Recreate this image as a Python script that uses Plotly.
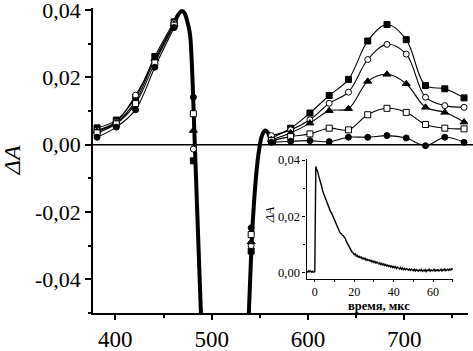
import plotly.graph_objects as go

# ---------------- data ----------------
wavelength = [381, 401, 421, 441, 461, 481, 541, 562, 582, 602, 622, 642, 662, 682, 702, 722, 742, 762]

s_filled_square = [0.0050, 0.0073, 0.0140, 0.0262, 0.0365, -0.0048, -0.0316, 0.0020, 0.0049, 0.0094,
                   0.0146, 0.0194, 0.0308, 0.0357, 0.0312, 0.0176, 0.0166, 0.0139]
s_open_circle = [0.0043, 0.0068, 0.0147, 0.0250, 0.0362, -0.0013, -0.0300, 0.0027, 0.0044, 0.0074,
                 0.0123, 0.0156, 0.0253, 0.0298, 0.0269, 0.0141, 0.0116, 0.0111]
s_filled_triangle = [0.0040, 0.0065, 0.0130, 0.0255, 0.0358, 0.0042, -0.0289, 0.0015, 0.0035, 0.0064,
                     0.0101, 0.0107, 0.0188, 0.0209, 0.0181, 0.0111, 0.0096, 0.0067]
s_open_square = [0.0035, 0.0062, 0.0122, 0.0243, 0.0355, 0.0092, -0.0267, 0.0012, 0.0024, 0.0032,
                 0.0049, 0.0044, 0.0089, 0.0108, 0.0096, 0.0060, 0.0049, 0.0047]
s_filled_circle = [0.0022, 0.0052, 0.0104, 0.0230, 0.0348, 0.0141, -0.0247, 0.0007, 0.0010, 0.0012,
                   0.0009, 0.0022, 0.0022, 0.0027, 0.0020, -0.0003, 0.0022, 0.0007]

# thick bleach curve (the part drawn without markers); None = off-scale gap
bleach_wl = [461, 465, 469.4, 472, 474.5, 477.4, 479.1, 482.5, 488.8, 492,
             None,
             535, 538.6, 541.5, 544, 546.6, 549, 552, 555.5, 558, 560.5, 564, 567]
bleach_val = [0.0358, 0.0385, 0.0397, 0.0390, 0.0368, 0.0330, 0.0260, 0.0, -0.050, -0.075,
              None,
              -0.075, -0.050, -0.029, -0.017, -0.0078, -0.002, 0.0025, 0.0042, 0.0037, 0.0022, 0.0010, 0.0007]

# inset kinetic trace, sampled every 0.5 us starting at -4 us
inset_t_start = -4.0
inset_t_step = 0.5
inset_da = [
    0.0005, 0.0002, 0.0007, 0.0003, 0.0006, 0.0001, 0.0005, 0.0002, 0.0004,
    0.0377, 0.0366, 0.0358, 0.0343, 0.0333, 0.0317, 0.0306, 0.0290, 0.0281,
    0.0268, 0.0262, 0.0249, 0.0243, 0.0231, 0.0226, 0.0216, 0.0212, 0.0203,
    0.0198, 0.0186, 0.0179, 0.0166, 0.0159, 0.0149, 0.0146, 0.0140, 0.0138,
    0.0132, 0.0131, 0.0125, 0.0121, 0.0111, 0.0105, 0.0095, 0.0090, 0.0082,
    0.0079, 0.0072, 0.0070, 0.0064, 0.0067, 0.0059, 0.0062, 0.0055, 0.0058,
    0.0053, 0.0056, 0.0049, 0.0053, 0.0047, 0.0051, 0.0044, 0.0048, 0.0043,
    0.0046, 0.0041, 0.0044, 0.0038, 0.0042, 0.0036, 0.0040, 0.0034, 0.0038,
    0.0033, 0.0031, 0.0035, 0.0029, 0.0033, 0.0027, 0.0031, 0.0025, 0.0029,
    0.0023, 0.0027, 0.0022, 0.0025, 0.0020, 0.0024, 0.0018, 0.0022, 0.0017,
    0.0021, 0.0015, 0.0019, 0.0016, 0.0013, 0.0018, 0.0012, 0.0016, 0.0011,
    0.0015, 0.0010, 0.0014, 0.0012, 0.0009, 0.0013, 0.0008, 0.0012, 0.0009,
    0.0007, 0.0012, 0.0006, 0.0011, 0.0008, 0.0005, 0.0010, 0.0007, 0.0011,
    0.0005, 0.0009, 0.0006, 0.0011, 0.0004, 0.0009, 0.0007, 0.0012, 0.0005,
    0.0010, 0.0006, 0.0008, 0.0012, 0.0005, 0.0010, 0.0007, 0.0011, 0.0006,
    0.0009, 0.0012, 0.0006, 0.0011, 0.0008, 0.0013, 0.0007, 0.0010, 0.0012,
    0.0008, 0.0013, 0.0009, 0.0014, 0.0011,
]

main_xticks = [400, 500, 600, 700]
main_xticktext = ["400", "500", "600", "700"]
main_yticks = [-0.04, -0.02, 0.0, 0.02, 0.04]
main_yticktext = ["-0,04", "-0,02", "0,00", "0,02", "0,04"]
inset_xticks = [0, 20, 40, 60]
inset_xticktext = ["0", "20", "40", "60"]
inset_yticks = [0.0, 0.02, 0.04]
inset_yticktext = ["0,00", "0,02", "0,04"]

# ---------------- figure ----------------
FONT = "Liberation Serif"
series = [
    (s_filled_square, "square", "black", 6),
    (s_open_circle, "circle", "white", 6),
    (s_filled_triangle, "triangle-up", "black", 7),
    (s_open_square, "square", "white", 6),
    (s_filled_circle, "circle", "black", 6),
]
LEFT_END, RIGHT_START = 461, 562

fig = go.Figure()

# thin spline lines (left and right segments of each series)
for vals, sym, fill, size in series:
    xs = [w if (w <= LEFT_END or w >= RIGHT_START) else None for w in wavelength]
    ys = [v if (w <= LEFT_END or w >= RIGHT_START) else None for w, v in zip(wavelength, vals)]
    fig.add_trace(go.Scatter(x=xs, y=ys, mode="lines", line=dict(color="black", width=1.1, shape="spline"),
                             connectgaps=False, showlegend=False, hoverinfo="skip"))

# thick curve
fig.add_trace(go.Scatter(x=bleach_wl, y=bleach_val, mode="lines", connectgaps=False,
                         line=dict(color="black", width=4, shape="spline"), showlegend=False))

# markers
for vals, sym, fill, size in series:
    fig.add_trace(go.Scatter(x=wavelength, y=vals, mode="markers",
                             marker=dict(symbol=sym, size=size, color=fill,
                                         line=dict(color="black", width=1)),
                             showlegend=False, cliponaxis=True))

# inset
inset_t = [inset_t_start + i * inset_t_step for i in range(len(inset_da))]
fig.add_trace(go.Scatter(x=inset_t, y=inset_da, mode="lines", xaxis="x2", yaxis="y2",
                         line=dict(color="black", width=1.4), showlegend=False))

axis_common = dict(showgrid=False, zeroline=False, showline=True, linecolor="black",
                   ticks="outside", tickcolor="black", mirror=False, automargin=False,
                   ticklabeloverflow="allow")

fig.update_layout(
    template=go.layout.Template(),
    width=473, height=351,
    margin=dict(l=93, r=5, t=8, b=38, pad=0),
    paper_bgcolor="white", plot_bgcolor="white",
    font=dict(family=FONT, color="black"),
    xaxis=dict(range=[376.8, 766.1], tickvals=main_xticks, ticktext=main_xticktext,
               ticklen=5, tickwidth=1.5, linewidth=1.5,
               tickfont=dict(family=FONT, size=23),
               minor=dict(tickvals=[450, 550, 650, 750], ticklen=3, ticks="outside",
                          tickwidth=1.5, tickcolor="black"),
               **axis_common),
    yaxis=dict(range=[-0.05, 0.0406], tickvals=main_yticks, ticktext=main_yticktext,
               ticklen=6, tickwidth=1.5, linewidth=1.5,
               tickfont=dict(family=FONT, size=22),
               minor=dict(tickvals=[-0.05, -0.03, -0.01, 0.01, 0.03], ticklen=3, ticks="outside",
                          tickwidth=1.5, tickcolor="black"),
               **axis_common),
    xaxis2=dict(domain=[0.5694, 0.960], anchor="y2", range=[-4.2, 70.1],
                tickvals=inset_xticks, ticktext=inset_xticktext, ticklen=2, tickwidth=1, linewidth=1.2,
                tickfont=dict(family=FONT, size=12),
                minor=dict(tickvals=[10, 30, 50, 70], ticklen=2, ticks="outside", tickcolor="black"),
                **axis_common),
    yaxis2=dict(domain=[0.1129, 0.5034], anchor="x2", range=[-0.0021, 0.0402],
                tickvals=inset_yticks, ticktext=inset_yticktext, ticklen=3, tickwidth=1, linewidth=1.2,
                tickfont=dict(family=FONT, size=12.5),
                minor=dict(tickvals=[0.01, 0.03], ticklen=2, ticks="outside", tickcolor="black"),
                **axis_common),
    shapes=[dict(type="line", xref="paper", yref="y", x0=0, x1=1.02, y0=0, y1=0,
                 line=dict(color="black", width=1.5))],
    annotations=[
        dict(text="<i>ΔA</i>", xref="paper", yref="paper", x=-0.217, y=0.50, textangle=-90,
             xanchor="center", yanchor="middle",
             showarrow=False, font=dict(family=FONT, size=24)),
        dict(text="<i>ΔA</i>", xref="paper", yref="paper", x=0.470, y=0.321, textangle=-90,
             xanchor="center", yanchor="middle",
             showarrow=False, font=dict(family=FONT, size=13)),
        dict(text="<b>время, мкс</b>", xref="paper", yref="paper", x=0.762, y=0.024,
             xanchor="center", yanchor="middle",
             showarrow=False, font=dict(family=FONT, size=12.5)),
    ],
)

fig.write_html("out.html", config={"displayModeBar": False},
               post_script="document.body.style.margin='0';document.body.style.padding='0';")
